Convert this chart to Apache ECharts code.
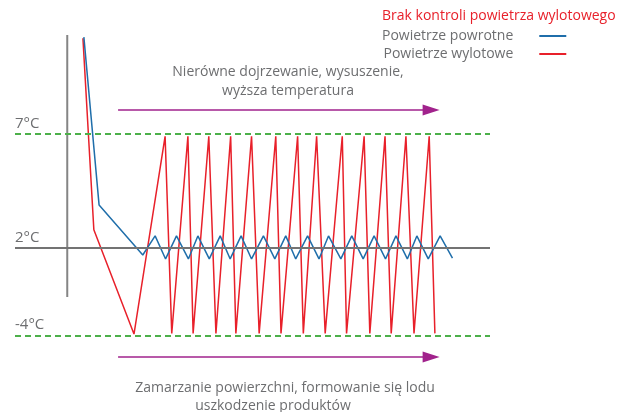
<!DOCTYPE html>
<html>
<head>
<meta charset="utf-8">
<script src="https://cdn.jsdelivr.net/npm/echarts@6/dist/echarts.min.js"></script>
<style>
  html, body { margin: 0; padding: 0; background: #fff; }
  #chart { width: 625px; height: 412px; }
</style>
</head>
<body>
<div id="chart"></div>
<script>
// czas (jednostki umowne) i temperatura (°C)
const returnX = [3.5, 6.7, 15.9, 18.5, 20.7, 23.0, 25.5, 27.5, 29.9, 32.2, 34.3, 36.6, 38.8, 41.3, 43.7, 46.0,
  48.1, 50.6, 53.0, 55.0, 57.6, 59.9, 62.3, 64.6, 67.0, 69.2, 71.6, 73.6, 76.0, 78.5, 81.1];
const returnT = [11.25, 3.89, 1.52, 2.53, 1.25, 2.53, 1.25, 2.53, 1.25, 2.53, 1.25, 2.53, 1.25, 2.53, 1.25, 2.53,
  1.25, 2.53, 1.25, 2.53, 1.25, 2.53, 1.25, 2.53, 1.25, 2.53, 1.25, 2.53, 1.25, 2.53, 1.31];

const outletX = [3.3, 5.6, 14.05, 20.6, 22.0, 25.4, 26.5, 29.8, 31.3, 34.4, 35.5, 38.8, 40.4, 43.9, 45.0,
  48.5, 49.7, 52.5, 54.3, 57.9, 58.8, 62.5, 63.7, 66.9, 68.2, 71.3, 73.0, 76.2, 77.4];
const outletT = [11.2, 2.8, -3.9, 6.9, -3.85, 6.9, -3.85, 6.9, -3.85, 6.9, -3.85, 6.9, -3.85, 6.9, -3.85,
  6.9, -3.85, 6.9, -3.85, 6.9, -3.85, 6.9, -3.85, 6.9, -3.85, 6.9, -3.85, 6.9, -3.85];

const levels = [7, 2, -4];            // opisane poziomy temperatury
const levelLabels = ['7°C', '2°C', '-4°C'];
const axisT = [11.34, -1.36];         // pionowa oś
const arrowX = [10.7, 76.6];
const arrowT = [8.05, -5.47];
const seriesNames = ['Powietrze powrotne', 'Powietrze wylotowe'];

// schemat nie jest liniowy: poniżej 2°C skala jest ściśnięta
function lvl(t) {
  return t >= 2 ? t - 2 : (t - 2) * 0.64;
}

const GRAY = '#6d6e70';
const RED = '#e8202a';
const BLUE = '#1f6eaa';
const PURPLE = '#a1228c';
const GREEN = '#4db04a';
const FONT = 'Open Sans';

const chart = echarts.init(document.getElementById('chart'));

const hLines = levels.map((t, i) => ({
  yAxis: lvl(t),
  lineStyle: t === 2
    ? { color: '#737373', width: 2, type: 'solid' }
    : { color: GREEN, width: 2, type: [6, 4] },
  label: {
    show: true,
    position: 'insideStartTop',
    formatter: levelLabels[i],
    color: GRAY,
    fontSize: 15,
    fontFamily: FONT,
    distance: [0, 3]
  }
}));

const arrows = arrowT.map(t => [
  { coord: [arrowX[0], lvl(t)], symbol: 'none' },
  { coord: [arrowX[1], lvl(t)], symbol: 'triangle', symbolSize: [11, 17],
    lineStyle: { color: PURPLE, width: 1.5, type: 'solid' } }
]);

chart.setOption({
  animation: false,
  title: {
    text: 'Brak kontroli powietrza wylotowego',
    left: 382,
    top: 9,
    padding: 0,
    textStyle: { color: RED, fontSize: 14, fontWeight: 'normal', fontFamily: FONT }
  },
  legend: {
    data: seriesNames,
    orient: 'vertical',
    left: 382,
    top: 29,
    padding: 0,
    align: 'right',
    itemGap: 4,
    itemWidth: 27,
    itemHeight: 2,
    icon: 'rect',
    textStyle: { color: GRAY, fontSize: 14, fontFamily: FONT, padding: [0, 21, 0, 0] }
  },
  grid: { left: 15, right: 135, top: 20, bottom: 50 },
  xAxis: { type: 'value', min: -11, max: 89, show: false },
  yAxis: { type: 'value', min: -5, max: 10, show: false },
  graphic: [
    { type: 'text', x: 288, y: 72, style: { text: 'Nierówne dojrzewanie, wysuszenie,', align: 'center', verticalAlign: 'middle', fill: GRAY, font: '14px "Open Sans"' } },
    { type: 'text', x: 288, y: 91, style: { text: 'wyższa temperatura', align: 'center', verticalAlign: 'middle', fill: GRAY, font: '14px "Open Sans"' } },
    { type: 'text', x: 285, y: 388, style: { text: 'Zamarzanie powierzchni, formowanie się lodu', align: 'center', verticalAlign: 'middle', fill: GRAY, font: '14px "Open Sans"' } },
    { type: 'text', x: 273, y: 406, style: { text: 'uszkodzenie produktów', align: 'center', verticalAlign: 'middle', fill: GRAY, font: '14px "Open Sans"' } }
  ],
  series: [
    {
      name: 'oś',
      type: 'line',
      z: 1,
      symbol: 'none',
      silent: true,
      data: axisT.map(t => [0, lvl(t)]),
      lineStyle: { color: '#858585', width: 2 },
      markLine: {
        silent: true,
        symbol: 'none',
        data: hLines.concat(arrows)
      }
    },
    {
      name: seriesNames[1],
      type: 'line',
      z: 2,
      symbol: 'none',
      clip: false,
      color: RED,
      lineStyle: { color: RED, width: 1.5 },
      data: outletX.map((x, i) => [x, lvl(outletT[i])])
    },
    {
      name: seriesNames[0],
      type: 'line',
      z: 3,
      symbol: 'none',
      clip: false,
      color: BLUE,
      lineStyle: { color: BLUE, width: 1.5 },
      data: returnX.map((x, i) => [x, lvl(returnT[i])])
    }
  ]
});
</script>
</body>
</html>
